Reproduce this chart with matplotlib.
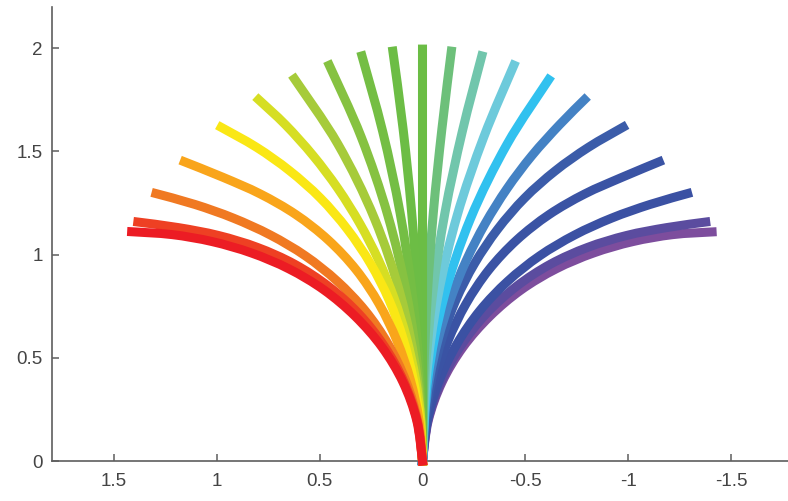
import numpy as np
import matplotlib
matplotlib.use("Agg")
import matplotlib.pyplot as plt
from matplotlib.path import Path
from matplotlib.patches import PathPatch

# curves, from the left (red) to the right (purple)
x01 = [0, 0.028, 0.095, 0.197, 0.327, 0.479, 0.649, 0.831, 1.021, 1.216, 1.413]
y01 = [0, 0.196, 0.382, 0.552, 0.701, 0.829, 0.931, 1.008, 1.063, 1.097, 1.111]
x02 = [0, 0.026, 0.090, 0.186, 0.309, 0.456, 0.622, 0.802, 0.992, 1.186, 1.383]
y02 = [0, 0.196, 0.384, 0.557, 0.713, 0.846, 0.954, 1.035, 1.093, 1.131, 1.158]
x03 = [0, 0.024, 0.080, 0.166, 0.278, 0.414, 0.569, 0.739, 0.919, 1.105, 1.295]
y03 = [0, 0.196, 0.386, 0.565, 0.728, 0.871, 0.994, 1.095, 1.177, 1.243, 1.296]
x04 = [0, 0.017, 0.059, 0.124, 0.211, 0.322, 0.458, 0.615, 0.788, 0.970, 1.157]
y04 = [0, 0.198, 0.393, 0.582, 0.761, 0.926, 1.071, 1.194, 1.294, 1.375, 1.450]
x05 = [0, 0.014, 0.045, 0.094, 0.162, 0.253, 0.365, 0.496, 0.645, 0.806, 0.978]
y05 = [0, 0.200, 0.397, 0.591, 0.779, 0.957, 1.123, 1.274, 1.406, 1.520, 1.617]
x06 = [0, 0.0086, 0.0345, 0.0773, 0.1369, 0.2127, 0.3042, 0.4109, 0.5316, 0.6655, 0.796]
y06 = [0, 0.2002, 0.399, 0.5948, 0.7862, 0.9718, 1.150, 1.3202, 1.480, 1.629, 1.751]
x07 = [0, 0.0262, 0.1045, 0.2335, 0.4109, 0.622]
y07 = [0, 0.4008, 0.7947, 1.1753, 1.5354, 1.852]
x08 = [0, 0.0189, 0.0752, 0.1686, 0.2982, 0.453]
y08 = [0, 0.4015, 0.7995, 1.1905, 1.5711, 1.918]
x09 = [0, 0.0121, 0.0484, 0.1089, 0.1932, 0.294]
y09 = [0, 0.4024, 0.8034, 1.2021, 1.5958, 1.963]
x10 = [0, 0.0059, 0.0235, 0.0529, 0.094, 0.144]
y10 = [0, 0.4026, 0.805, 1.2065, 1.607, 1.986]
x11 = [0, 0]
y11 = [0, 1.996]
x12 = [0, -0.0059, -0.0235, -0.0529, -0.094, -0.140]
y12 = [0, 0.4026, 0.805, 1.2065, 1.607, 1.986]
x13 = [0, -0.0121, -0.0484, -0.1089, -0.1932, -0.288]
y13 = [0, 0.4024, 0.8034, 1.2021, 1.5958, 1.963]
x14 = [0, -0.0189, -0.0752, -0.1686, -0.2982, -0.444]
y14 = [0, 0.4015, 0.7995, 1.1905, 1.5711, 1.918]
x15 = [0, -0.0262, -0.1045, -0.2335, -0.4109, -0.613]
y15 = [0, 0.4008, 0.7947, 1.1753, 1.5354, 1.848]
x16 = [0, -0.0086, -0.0345, -0.0773, -0.1369, -0.2127, -0.3042, -0.4109, -0.5316, -0.6655, -0.787]
y16 = [0, 0.2002, 0.399, 0.5948, 0.7862, 0.9718, 1.150, 1.3202, 1.480, 1.629, 1.751]
x17 = [0, -0.014, -0.045, -0.094, -0.162, -0.253, -0.365, -0.496, -0.645, -0.806, -0.975]
y17 = [0, 0.200, 0.397, 0.591, 0.779, 0.957, 1.123, 1.274, 1.406, 1.520, 1.618]
x18 = [0, -0.017, -0.059, -0.124, -0.211, -0.322, -0.458, -0.615, -0.788, -0.970, -1.150]
y18 = [0, 0.198, 0.393, 0.582, 0.761, 0.926, 1.071, 1.194, 1.294, 1.375, 1.450]
x19 = [0, -0.024, -0.080, -0.166, -0.278, -0.414, -0.569, -0.739, -0.919, -1.105, -1.288]
y19 = [0, 0.196, 0.386, 0.565, 0.728, 0.871, 0.994, 1.095, 1.177, 1.243, 1.296]
x20 = [0, -0.026, -0.090, -0.186, -0.309, -0.456, -0.622, -0.802, -0.992, -1.186, -1.376]
y20 = [0, 0.196, 0.384, 0.557, 0.713, 0.846, 0.954, 1.035, 1.093, 1.131, 1.158]
x21 = [0, -0.028, -0.095, -0.197, -0.327, -0.479, -0.649, -0.831, -1.021, -1.216, -1.407]
y21 = [0, 0.196, 0.382, 0.552, 0.701, 0.829, 0.931, 1.008, 1.063, 1.097, 1.110]

curve_x = [x01, x02, x03, x04, x05, x06, x07, x08, x09, x10, x11,
           x12, x13, x14, x15, x16, x17, x18, x19, x20, x21]
curve_y = [y01, y02, y03, y04, y05, y06, y07, y08, y09, y10, y11,
           y12, y13, y14, y15, y16, y17, y18, y19, y20, y21]
colors = ['#ec1c24', '#ee4023', '#f07922', '#f9a51b', '#fae715', '#d6de23',
          '#a6cb3a', '#86c241', '#74be44', '#6cbd45', '#6bbd45', '#6dc07a',
          '#71c6ac', '#6dcadb', '#31c1ef', '#4482c4', '#3b5ca9', '#3a53a4',
          '#3b51a3', '#5b4c9f', '#7d4d9d']

xticks = [1.5, 1, 0.5, 0, -0.5, -1, -1.5]
xlabels = ['1.5', '1', '0.5', '0', '-0.5', '-1', '-1.5']
yticks = [0, 0.5, 1, 1.5, 2]
ylabels = ['0', '0.5', '1', '1.5', '2']


def smooth_path(xs, ys):
    # bezier segments through the read points (catmull-rom handles)
    p = np.column_stack([xs, ys]).astype(float)
    ext = np.vstack([p[0], p, p[-1]])
    verts = [p[0]]
    codes = [Path.MOVETO]
    for i in range(1, len(ext) - 2):
        c1 = ext[i] + (ext[i + 1] - ext[i - 1]) / 6
        c2 = ext[i + 1] - (ext[i + 2] - ext[i]) / 6
        verts += [c1, c2, ext[i + 1]]
        codes += [Path.CURVE4] * 3
    return Path(verts, codes)


plt.rcParams['font.family'] = ['Liberation Sans', 'DejaVu Sans']

fig = plt.figure(figsize=(7.88, 5.01), dpi=100)
ax = fig.add_axes([52/788, 40/501, 741/788, 454/501])

# purple first, red last (red sits on top at the base)
for i in reversed(range(len(curve_x))):
    patch = PathPatch(smooth_path(curve_x[i], curve_y[i]), fill=False,
                      edgecolor=colors[i], lw=6.5, capstyle='projecting',
                      joinstyle='round', clip_on=False, zorder=3)
    ax.add_patch(patch)

ax.set_xlim(1.8, -1.8)
ax.set_ylim(0, 2.2)
ax.set_xticks(xticks)
ax.set_xticklabels(xlabels)
ax.set_yticks(yticks)
ax.set_yticklabels(ylabels)

for s in ['top', 'right']:
    ax.spines[s].set_visible(False)
for s in ['left', 'bottom']:
    ax.spines[s].set_color('#5e5e5e')
    ax.spines[s].set_linewidth(1.2)

ax.tick_params(direction='in', length=5, width=1.1, color='#5e5e5e',
               labelcolor='#444444', labelsize=13.5)
ax.tick_params(axis='x', pad=9)
ax.tick_params(axis='y', pad=6.5)

fig.savefig('out.png', dpi=100)
